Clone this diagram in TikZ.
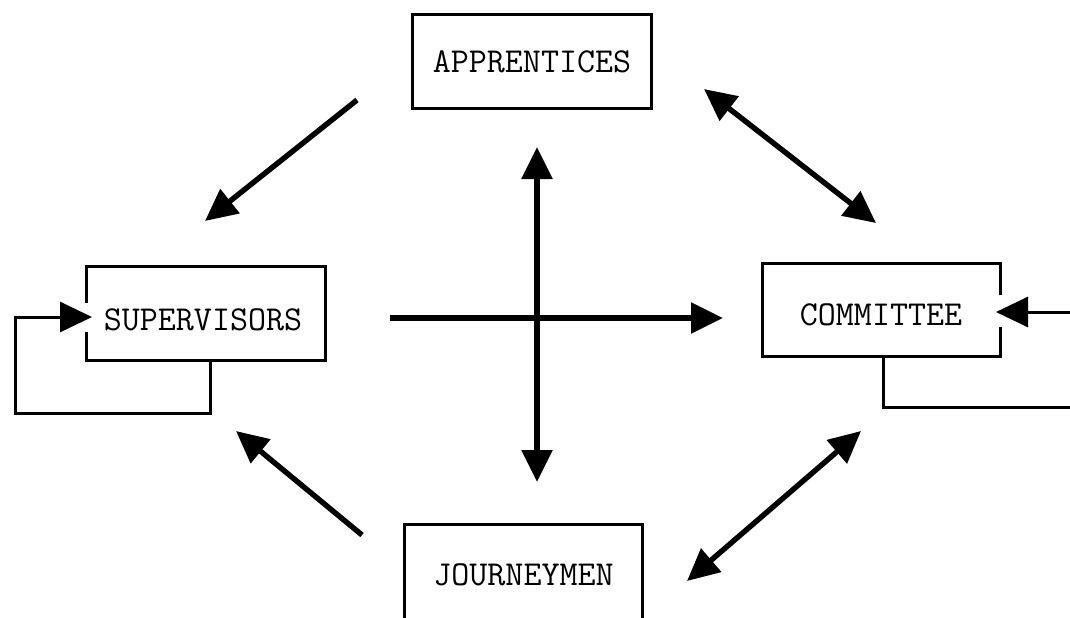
\documentclass[tikz,border=0pt]{standalone}
\usetikzlibrary{arrows.meta}
\begin{document}
\begin{tikzpicture}[x=0.5pt,y=-0.5pt,
  lbl/.style={font=\ttfamily\fontsize{17.5}{20}\selectfont},
  boxnode/.style={inner sep=0pt,minimum width=119pt,minimum height=46.5pt,lbl},
  boxline/.style={line width=1.5pt,line join=miter},
  loopline/.style={line width=1.5pt},
  tip/.style={},
  arr/.style={line width=2.7pt,-{Triangle[length=16pt,width=15pt]}},
  darr/.style={line width=2.7pt,{Triangle[length=16pt,width=15pt]}-{Triangle[length=16pt,width=15pt]}},
  larr/.style={line width=1.5pt,-{Triangle[length=16pt,width=15pt]}}]
\useasboundingbox (0,0) rectangle (1070,617);
\clip (0,0) rectangle (1070,617);
\fill[white] (0,0) rectangle (1070,617);
% boxes
\node[boxnode] (app) at (532,61.5) {APPRENTICES};
\node[boxnode] (sup) at (206,313.5) {};
\node[lbl] (suptext) at (203,320) {SUPERVISORS};
\node[boxnode] (com) at (881.5,310) {};
\node[lbl] (comtext) at (881,315) {COMMITTEE};
\node[boxnode,minimum height=50pt] (jou) at (523.5,575) {JOURNEYMEN};
\draw[boxline] (app.south west) rectangle (app.north east);
\draw[boxline] (sup.west |- 0,303) -- (sup.north west) -- (sup.north east) -- (sup.south east) -- (sup.south west) -- (sup.west |- 0,332);
\draw[boxline] (com.east |- 0,295) -- (com.north east) -- (com.north west) -- (com.south west) -- (com.south east) -- (com.east |- 0,327);
\draw[boxline] (jou.south west) -- (jou.north west) -- (jou.north east) -- (jou.south east);
% free ends of connectors
\coordinate (a1) at (357,100);
\coordinate (a2) at (205,221);
\coordinate (b1) at (704,89);
\coordinate (b2) at (876,223);
\coordinate (v1) at (537,147);
\coordinate (v2) at (537,482);
\coordinate (h1) at (390,318);
\coordinate (h2) at (723,318);
\coordinate (j1) at (362,535);
\coordinate (j2) at (236,431);
\coordinate (k1) at (687,581);
\coordinate (k2) at (861,431);
\coordinate (s1) at (210,360);
\coordinate (s2) at (92,317);
\coordinate (c1) at (883,356);
\coordinate (c2) at (996,312);
\coordinate (c3) at (1090,312);
% connectors
\draw[arr] (a1) -- (a2);
\draw[darr] (b1) -- (b2);
\draw[darr] (v1) -- (v2);
\draw[arr] (h1) -- (h2);
\draw[arr] (j1) -- (j2);
\draw[darr] (k1) -- (k2);
\draw[larr] (s1) |- (15,413) |- (s2);
\draw[loopline] (c1) |- (1090,407);
\draw[larr] (c3) -- (c2);
\end{tikzpicture}
\end{document}
